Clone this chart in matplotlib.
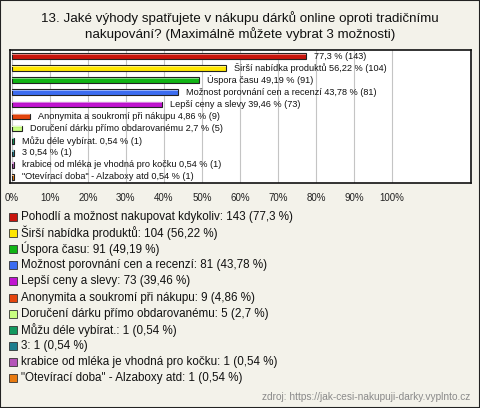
import numpy as np
import matplotlib
matplotlib.use("Agg")
import matplotlib.pyplot as plt
from matplotlib.patches import Rectangle
from matplotlib.colors import to_rgb

plt.rcParams['font.family'] = ['Liberation Sans', 'DejaVu Sans']

# data
title = "13. Jaké výhody spatřujete v nákupu dárků online oproti tradičnímu\nnakupování? (Maximálně můžete vybrat 3 možnosti)"
categories = [
    "Pohodlí a možnost nakupovat kdykoliv",
    "Širší nabídka produktů",
    "Úspora času",
    "Možnost porovnání cen a recenzí",
    "Lepší ceny a slevy",
    "Anonymita a soukromí při nákupu",
    "Doručení dárku přímo obdarovanému",
    "Můžu déle vybírat.",
    "3",
    "krabice od mléka je vhodná pro kočku",
    "\"Otevírací doba\" - Alzaboxy atd",
]
counts = [143, 104, 91, 81, 73, 9, 5, 1, 1, 1, 1]
percents = [77.3, 56.22, 49.19, 43.78, 39.46, 4.86, 2.7, 0.54, 0.54, 0.54, 0.54]
colors = ["#c8140c", "#ffe600", "#10b414", "#3c6cf0", "#c014d0", "#e4440c",
          "#c8ff80", "#12985e", "#1e7e8e", "#b454b8", "#e87a10"]
xticks = list(range(0, 101, 10))
source = "zdroj: https://jak-cesi-nakupuji-darky.vyplnto.cz"

BG = "#f3f2ea"
W, H = 480, 408


def pct_str(p):
    return ("%g" % p).replace(".", ",") + " %"


fig = plt.figure(figsize=(4.8, 4.08), dpi=100, facecolor=BG)
ax = fig.add_axes([10 / W, 1 - 183 / H, 461 / W, 133 / H])
ax.set_facecolor("white")

y = np.arange(len(categories))
ax.barh(y, percents, height=0.48, color=colors, edgecolor="#222222", linewidth=0.8, zorder=3)
# lighter top strip for a bit of 3D look
light = [tuple(0.55 * c + 0.45 for c in to_rgb(col)) for col in colors]
ax.barh(y - 0.15, percents, height=0.1, color=light, linewidth=0, zorder=4)

for i, (name, p, n) in enumerate(zip(categories, percents, counts)):
    if i == 0:
        txt = "%s (%d)" % (pct_str(p), n)
    else:
        txt = "%s %s (%d)" % (name, pct_str(p), n)
    ax.annotate(txt, (p, i), xytext=(8, 0), textcoords="offset pixels",
                va="center", ha="left", fontsize=6.6, color="#111111", zorder=5)

ax.set_xlim(-0.5, 120.8)
ax.set_ylim(len(categories) - 0.5, -0.5)
ax.set_yticks([])
ax.set_xticks(xticks)
ax.set_xticklabels(["%d%%" % t for t in xticks], fontsize=7, color="#222222")
ax.tick_params(axis="x", length=0, pad=7)
ax.grid(axis="x", color="#c4c4c4", linewidth=0.8, zorder=0)
for s in ax.spines.values():
    s.set_linewidth(1.2)
    s.set_color("#111111")

fig.text(0.5, 1 - 26 / H, title, ha="center", va="center", fontsize=9.6,
         color="#111111", linespacing=1.25)

# legend drawn line by line with fixed 16 px spacing
for i, (c, n, p, col) in enumerate(zip(categories, counts, percents, colors)):
    ly = 217 + 16.1 * i
    fig.patches.append(Rectangle((9 / W, 1 - (ly + 4) / H), 8 / W, 8 / H,
                                 transform=fig.transFigure, facecolor=col,
                                 edgecolor="#333333", linewidth=0.6))
    fig.text(21 / W, 1 - ly / H, "%s: %d (%s)" % (c, n, pct_str(p)),
             ha="left", va="center", fontsize=8.4, color="#111111")

fig.text(470 / W, 1 - 397 / H, source, ha="right", va="center", fontsize=7.3,
         color="#8a8a8a")

fig.patches.append(Rectangle((0, 0), 1, 1, transform=fig.transFigure, fill=False,
                             edgecolor="#222222", linewidth=1.5))

fig.savefig("out.png", dpi=100, facecolor=BG)
